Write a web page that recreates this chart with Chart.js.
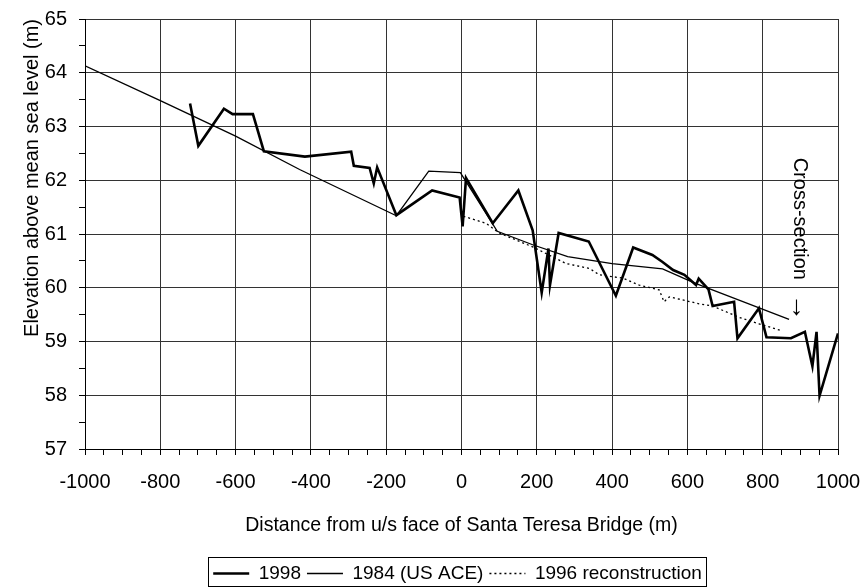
<!DOCTYPE html>
<html>
<head>
<meta charset="utf-8">
<script src="https://cdn.jsdelivr.net/npm/chart.js@4/dist/chart.umd.min.js"></script>
<style>
  body { margin: 0; background: #fff; }
  #wrap { width: 865px; height: 588px; }
</style>
</head>
<body>
<div id="wrap"><canvas id="graphCanvas" width="865" height="588"></canvas></div>
<script>
// 1998 survey
var dist1998 = [-721, -699, -631, -608, -554, -525, -416, -293, -286, -244, -233, -224, -173, -78, -5, 3, 12, 83, 151, 189, 213, 231, 235, 258, 338, 410, 456, 507, 534, 562, 592, 623, 630, 656, 667, 724, 733, 790, 810, 875, 912, 932, 943, 951, 1000];
var elev1998 = [63.43, 62.64, 63.33, 63.23, 63.23, 62.54, 62.44, 62.53, 62.27, 62.23, 61.94, 62.24, 61.35, 61.81, 61.68, 61.14, 62.04, 61.2, 61.81, 61.07, 59.91, 60.73, 60.05, 61.02, 60.86, 59.85, 60.75, 60.61, 60.48, 60.33, 60.24, 60.05, 60.17, 59.97, 59.66, 59.74, 59.06, 59.62, 59.08, 59.06, 59.18, 58.54, 59.18, 57.99, 59.15];

// 1984 (US ACE)
var dist1984 = [-1000, -800, -600, -430, -173, -87, -3, 95, 189, 282, 400, 534, 618, 870];
var elev1984 = [64.13, 63.48, 62.82, 62.2, 61.34, 62.17, 62.14, 61.05, 60.8, 60.58, 60.45, 60.35, 60.09, 59.41];

// 1996 reconstruction
var dist1996 = [5, 65, 100, 189, 278, 340, 366, 428, 472, 525, 538, 552, 596, 631, 667, 737, 790, 850];
var elev1996 = [61.33, 61.2, 61.02, 60.76, 60.45, 60.36, 60.24, 60.18, 60.05, 59.96, 59.74, 59.83, 59.76, 59.7, 59.66, 59.45, 59.33, 59.2];

var xTicksMajor = 200;
var yTicksMajor = 1;

var fontFam = "'Liberation Sans', Arial, sans-serif";
var fontSize = 20;

function toPoints(xs, ys) {
  var pts = [];
  for (var i in xs) {
    pts.push({ x: xs[i], y: ys[i] });
  }
  return pts;
}

// box around the legend + the rotated "Cross-section" note
var extras = {
  id: 'extras',
  afterLayout: function (chart) {
    var lg = chart.legend;
    lg.top += 5;
    lg.bottom += 5;
    lg.left -= 4;
    lg.right -= 4;
  },
  afterDraw: function (chart) {
    var ctx = chart.ctx;
    var boxes = chart.legend.legendHitBoxes;
    if (boxes && boxes.length) {
      var first = boxes[0], last = boxes[boxes.length - 1];
      var l = Math.round(first.left - 5) + 0.5;
      var r = Math.round(last.left + last.width + 4) + 0.5;
      var t = Math.round(first.top - 7) + 0.5;
      var b = Math.round(first.top + first.height + 3) + 0.5;
      ctx.save();
      ctx.strokeStyle = '#000';
      ctx.lineWidth = 1;
      ctx.strokeRect(l, t, r - l, b - t);
      ctx.restore();
    }
    var xs = chart.scales.x, ys = chart.scales.y;
    ctx.save();
    ctx.translate(xs.getPixelForValue(899), ys.getPixelForValue(62.42));
    ctx.rotate(Math.PI / 2);
    ctx.fillStyle = '#000';
    ctx.textAlign = 'left';
    ctx.textBaseline = 'middle';
    ctx.font = fontSize + 'px ' + fontFam;
    ctx.fillText('Cross-section', 0, 0);
    ctx.font = '27px ' + fontFam;
    ctx.fillText('\u2192', 136, 1);
    ctx.restore();
  }
};

var chartdata = {
  datasets: [
    {
      label: '1998',
      data: toPoints(dist1998, elev1998),
      borderColor: '#000',
      backgroundColor: '#000',
      borderWidth: 2.6,
      pointRadius: 0,
      tension: 0
    },
    {
      label: '1984 (US ACE)',
      data: toPoints(dist1984, elev1984),
      borderColor: '#000',
      backgroundColor: '#000',
      borderWidth: 1.3,
      pointRadius: 0,
      tension: 0
    },
    {
      label: '1996 reconstruction',
      data: toPoints(dist1996, elev1996),
      borderColor: '#000',
      backgroundColor: '#000',
      borderWidth: 1.3,
      borderDash: [2, 3],
      pointRadius: 0,
      tension: 0
    }
  ]
};

var graphTarget = document.getElementById('graphCanvas');
var lineGraph = new Chart(graphTarget, {
  type: 'line',
  data: chartdata,
  plugins: [extras],
  options: {
    responsive: false,
    animation: false,
    events: [],
    layout: { padding: { top: 19, right: 27, left: 0, bottom: 0 } },
    plugins: {
      tooltip: { enabled: false },
      legend: {
        position: 'bottom',
        fullSize: false,
        labels: {
          usePointStyle: true,
          pointStyle: 'line',
          pointStyleWidth: 36,
          padding: 6,
          color: '#000',
          font: { family: fontFam, size: 19 },
          generateLabels: function (chart) {
            var items = Chart.defaults.plugins.legend.labels.generateLabels(chart);
            for (var i in items) {
              var ds = chart.data.datasets[items[i].datasetIndex];
              items[i].lineDash = ds.borderDash || [];
              items[i].lineWidth = ds.borderWidth;
            }
            return items;
          }
        }
      }
    },
    scales: {
      x: {
        type: 'linear',
        min: -1000,
        max: 1000,
        ticks: {
          stepSize: 50,
          autoSkip: false,
          maxRotation: 0,
          padding: 15,
          color: '#000',
          font: { family: fontFam, size: fontSize },
          callback: function (v) { return v % xTicksMajor === 0 ? v : ''; }
        },
        grid: {
          color: function (c) { return c.tick && c.tick.value % xTicksMajor === 0 ? '#333' : 'rgba(0,0,0,0)'; },
          tickColor: '#000',
          tickLength: 6,
          lineWidth: 1
        },
        border: { color: '#000', width: 1 },
        title: {
          display: true,
          text: 'Distance from u/s face of Santa Teresa Bridge (m)',
          color: '#000',
          font: { family: fontFam, size: 19.5 },
          padding: { top: 0, bottom: 16 }
        },
        afterFit: function (s) {
          s.height = 104;
          s.paddingLeft = 0;
          s.paddingRight = 0;
        }
      },
      y: {
        min: 57,
        max: 65,
        ticks: {
          stepSize: 0.5,
          autoSkip: false,
          padding: 12,
          color: '#000',
          font: { family: fontFam, size: fontSize },
          callback: function (v) { return v % yTicksMajor === 0 ? v : ''; }
        },
        grid: {
          color: function (c) { return c.tick && c.tick.value % yTicksMajor === 0 ? '#333' : 'rgba(0,0,0,0)'; },
          tickColor: '#000',
          tickLength: 6,
          lineWidth: 1
        },
        border: { color: '#000', width: 1 },
        title: {
          display: true,
          text: 'Elevation above mean sea level (m)',
          align: 'end',
          color: '#000',
          font: { family: fontFam, size: fontSize },
          padding: { top: 20, bottom: 0 }
        },
        afterFit: function (s) {
          s.width = 85;
          s.paddingTop = 0;
          s.paddingBottom = 0;
        }
      }
    }
  }
});
</script>
</body>
</html>
